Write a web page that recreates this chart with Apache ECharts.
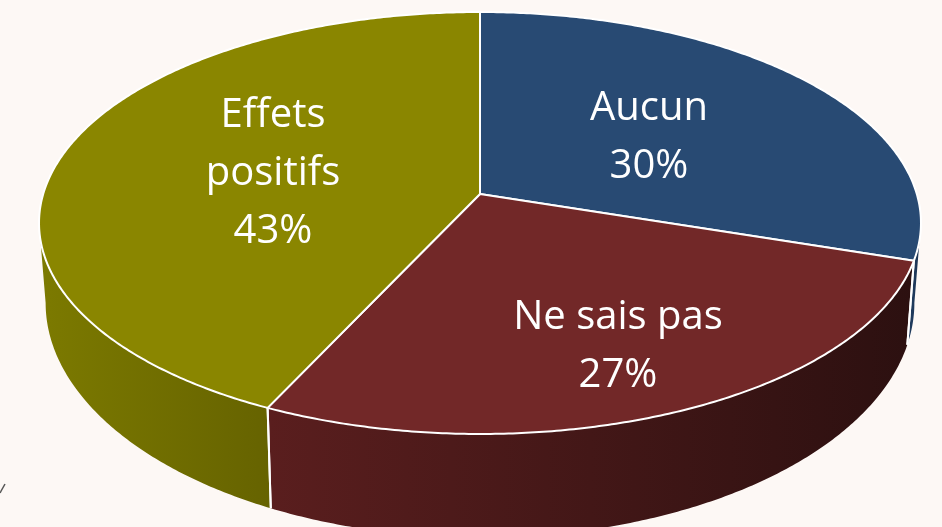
<!DOCTYPE html>
<html>
<head>
<meta charset="utf-8">
<script src="https://cdn.jsdelivr.net/npm/echarts@6/dist/echarts.min.js"></script>
<style>
html,body{margin:0;padding:0;background:#fdf8f5;}
#chart{width:942px;height:527px;}
</style>
</head>
<body>
<div id="chart"></div>
<script>
// ---- data ----
const categories = ['Aucun', 'Ne sais pas', 'Effets positifs'];
const values = [30, 27, 43];
const labelNames = ['Aucun', 'Ne sais pas', 'Effets\npositifs'];

// ---- styles / layout ----
const topColors = ['#284a73', '#722828', '#8a8600'];
const wallColors = [['#1f3a5c', '#1a304d'], ['#5a1e1e', '#2c1010'], ['#7c7a00', '#666300']];
const labelPos = [[649, 138], [618, 347], [273, 174]];

const CX = 480, CY = 194, A = 436.8, B = 207, E = 0.1374, D = 77, SHRINK = 0.985;

function proj(phi, r) {
  const u = r * Math.sin(phi), v = -r * Math.cos(phi);
  const k = 1 / (1 - E * v);
  return [CX + A * u * k, CY + B * v * k];
}
function projBottom(phi) {
  const p = proj(phi, 1);
  const v = -Math.cos(phi);
  const d = D / Math.pow(1 - E * v, 2);
  return [CX + (p[0] - CX) * SHRINK, p[1] + d];
}
function arc(a, b, f) {
  const pts = [];
  const n = Math.max(2, Math.ceil(Math.abs(b - a) / (Math.PI / 360)));
  for (let i = 0; i <= n; i++) pts.push(f(a + (b - a) * i / n));
  return pts;
}

const total = values.reduce((s, v) => s + v, 0);
const visA = Math.acos(-E), visB = 2 * Math.PI - Math.acos(-E);

function renderItem(params, api) {
  const idx = params.dataIndex;
  let before = 0;
  for (let i = 0; i < idx; i++) before += values[i];
  const val = api.value(0);
  const a = before / total * 2 * Math.PI;
  const b = (before + val) / total * 2 * Math.PI;
  const children = [];

  // side wall
  const wa = Math.max(a, visA), wb = Math.min(b, visB);
  if (wb > wa) {
    const topPts = arc(wa, wb, phi => proj(phi, 1));
    const botPts = arc(wb, wa, phi => projBottom(phi));
    const xs = topPts.map(p => p[0]);
    const x0 = Math.min.apply(null, xs), x1 = Math.max.apply(null, xs);
    children.push({
      type: 'polygon', z2: 1,
      shape: { points: topPts.concat(botPts) },
      style: {
        fill: new echarts.graphic.LinearGradient(x0, 0, x1, 0, [
          { offset: 0, color: wallColors[idx][0] },
          { offset: 1, color: wallColors[idx][1] }
        ], true),
        stroke: null
      }
    });
    // boundary edges on the wall
    [a, b].forEach(phi => {
      if (phi > visA && phi < visB) {
        const p = proj(phi, 1), q = projBottom(phi);
        children.push({
          type: 'line', z2: 5,
          shape: { x1: p[0], y1: p[1], x2: q[0], y2: q[1] },
          style: { stroke: '#ffffff', lineWidth: 2 }
        });
      }
    });
  }

  // top face
  const facePts = [[CX, CY]].concat(arc(a, b, phi => proj(phi, 1)));
  children.push({
    type: 'polygon', z2: 10,
    shape: { points: facePts },
    style: { fill: topColors[idx], stroke: '#ffffff', lineWidth: 2, lineJoin: 'round' }
  });

  // label
  children.push({
    type: 'text', z2: 20,
    x: labelPos[idx][0], y: labelPos[idx][1],
    style: {
      text: labelNames[idx] + '\n' + val + '%',
      fill: '#ffffff',
      font: '40px "Open Sans"',
      lineHeight: 58,
      align: 'center',
      verticalAlign: 'middle'
    }
  });

  return { type: 'group', children: children };
}

const chart = echarts.init(document.getElementById('chart'), null, { renderer: 'canvas' });
chart.setOption({
  backgroundColor: '#fdf8f5',
  animation: false,
  series: [{
    type: 'custom',
    name: 'Réponses',
    coordinateSystem: 'none',
    renderItem: renderItem,
    data: values.map((v, i) => ({ name: categories[i], value: v }))
  }],
  graphic: [{
    type: 'line',
    shape: { x1: 0, y1: 493, x2: 5, y2: 484 },
    style: { stroke: '#555555', lineWidth: 1.5 }
  }]
});
</script>
</body>
</html>
